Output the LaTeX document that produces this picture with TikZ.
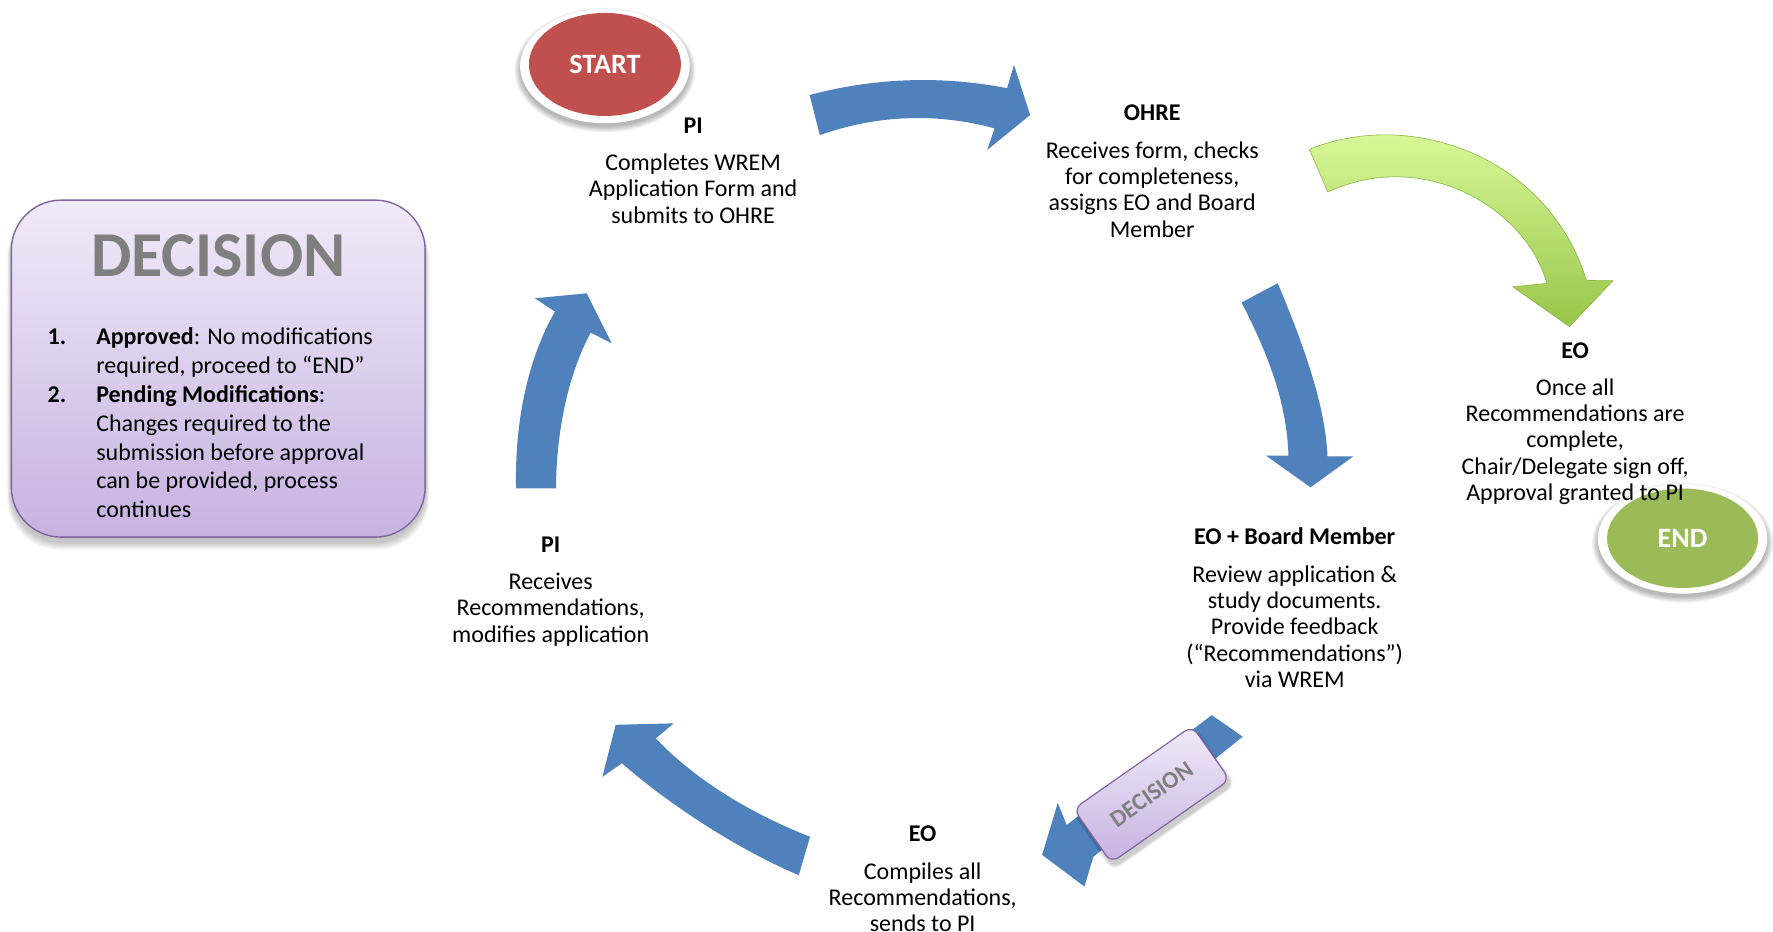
\documentclass[tikz,border=0pt]{standalone}
\usepackage{fontspec}
\setmainfont{Carlito}
\usetikzlibrary{shapes.geometric}
\definecolor{arrowblue}{HTML}{4F81BD}
\definecolor{startred}{HTML}{C0504D}
\definecolor{endgreen}{HTML}{9BBB59}
\definecolor{boxpurple}{HTML}{8064A2}
\definecolor{boxtop}{HTML}{F1EAF9}
\definecolor{boxbot}{HTML}{C7B2E1}
\definecolor{greenlight}{HTML}{E0FFA2}
\definecolor{greendark}{HTML}{98C54A}
\definecolor{greenline}{HTML}{8DB447}
\definecolor{titlegray}{HTML}{7F7F7F}
\tikzset{
  head/.style={font=\fontsize{24}{26.3}\selectfont\bfseries, inner sep=0pt, anchor=center},
  body/.style={font=\fontsize{24}{26.3}\selectfont, align=center, inner sep=0pt, anchor=north},
  bluearrow/.style={fill=arrowblue},
  ringshadow/.style={fill=black, opacity=0.05},
}
\begin{document}
\begin{tikzpicture}[x={(1.1307pt,0)}, y={(0,-1.1307pt)}]
\useasboundingbox (0,0) rectangle (1568,824);
\fill[white] (0,0) rectangle (1568,824);

% ---------- DECISION legend box ----------
\foreach \s in {1,...,6}
  \fill[black, opacity=0.04, rounded corners=52pt] (10-\s*0.6,181+\s*0.2) rectangle (376+\s*0.6,479+\s*1.2);
\node[draw=boxpurple, line width=1.4pt, rounded corners=50pt, top color=boxtop, bottom color=boxbot,
      minimum width=413.8pt, minimum height=337pt, inner sep=0pt] (decbox) at (193,326) {};
\node[font=\fontsize{64}{64}\selectfont\bfseries, text=titlegray, inner sep=0pt] (dectitle) at (193,226) {DECISION};
\node[font=\fontsize{24}{28.8}\selectfont, align=left, inner sep=0pt, anchor=north west] (declist) at (42,290) {%
\makebox[48.6pt][l]{\bfseries 1.}\textbf{Approved}: No modifications\\
\hspace*{48.6pt}required, proceed to “END”\\
\makebox[48.6pt][l]{\bfseries 2.}\textbf{Pending Modifications}:\\
\hspace*{48.6pt}Changes required to the\\
\hspace*{48.6pt}submission before approval\\
\hspace*{48.6pt}can be provided, process\\
\hspace*{48.6pt}continues};

% ---------- START ----------
\foreach \s in {1,...,6}
  \fill[ringshadow] (535,62) ellipse [x radius=74+\s, y radius=49+\s];
\fill[white] (535,58.5) ellipse [x radius=75, y radius=50.5];
\node[ellipse, fill=startred, minimum width=152pt, minimum height=103pt, inner sep=0pt,
      text=white, font=\fontsize{28}{28}\selectfont\bfseries] (start) at (535,57) {START};

% ---------- END ----------
\foreach \s in {1,...,6}
  \fill[ringshadow] (1488,480) ellipse [x radius=74+\s, y radius=47+\s];
\fill[white] (1488,476.5) ellipse [x radius=75, y radius=48.5];
\node[ellipse, fill=endgreen, minimum width=151pt, minimum height=99.5pt, inner sep=0pt,
      text=white, font=\fontsize{28}{28}\selectfont\bfseries] (end) at (1488,476) {END};

% ---------- arrows ----------
% top: PI -> OHRE
\fill[bluearrow] (716,84) .. controls (774,68.7) and (832,66.7) .. (890.6,78) -- (896.8,57.5) -- (911,101.7)
  -- (873,132.7) -- (879.6,113.5) .. controls (828,99.6) and (776.3,101.6) .. (725,119.4) -- cycle;
% right: OHRE -> EO + Board Member
\fill[bluearrow] (1130,250.5) .. controls (1155,310) and (1172,360) .. (1174,403.5) -- (1197,403.5) -- (1159,431)
  -- (1119.7,403) -- (1139.5,403) .. controls (1138,360) and (1125,320) .. (1098,267.5) -- cycle;
% green: OHRE -> EO (approval)
\path[draw=greenline, line width=0.6pt, top color=greenlight, bottom color=greendark]
  (1158,132) .. controls (1250,95) and (1370,140) .. (1403,248) -- (1426.4,248.3) -- (1388,288.8)
  -- (1337.9,253.7) -- (1368,250.6) .. controls (1350,185) and (1260,130) .. (1174.3,169.8) -- cycle;
% decision arrow
\fill[bluearrow] (1071.6,632.4) -- (1099,651.5) .. controls (1055,687) and (1011,722) .. (967,757.7) -- (959,784) -- (921.6,756)
  -- (935.5,710) -- (943.3,729.6) .. controls (986,697) and (1029,665) .. (1071.6,632.4) -- cycle;
% bottom-left: EO -> PI
\fill[bluearrow] (716.4,740) .. controls (665,720) and (615,690) .. (580,653) -- (595.9,639.7) -- (544.5,641)
  -- (532.7,687) -- (550,675) .. controls (590,710) and (650,750) .. (706.4,774) -- cycle;
% left: PI -> PI
\fill[bluearrow] (456.4,432) .. controls (455,370) and (468,315) .. (490.8,275.6) -- (473,263.8) -- (518.9,259.4)
  -- (541,303.6) -- (522.4,294.2) .. controls (503,330) and (492,380) .. (491.7,432) -- cycle;

% small DECISION tag
\foreach \s in {1,...,4}
  \node[rotate=35, rounded corners=9pt, fill=black, opacity=0.05, minimum width=144.7pt+\s*1.5pt,
        minimum height=65.6pt+\s*1.5pt] at (1020.5,706.5) {};
\node[rotate=35, rounded corners=9pt, draw=boxpurple, line width=1.2pt, top color=boxtop, bottom color=boxbot,
      minimum width=144.7pt, minimum height=65.6pt, inner sep=0pt, text=titlegray,
      font=\fontsize{24}{24}\selectfont\bfseries] (dectag) at (1018.5,702.5) {DECISION};

% ---------- step texts ----------
\node[head] (h1) at (613,111) {PI};
\node[body] (b1) at (613,136) {Completes WREM\\Application Form and\\submits to OHRE};

\node[head] (h2) at (1019,99.5) {OHRE};
\node[body] (b2) at (1019,125) {Receives form, checks\\for completeness,\\assigns EO and Board\\Member};

\node[head] (h3) at (1393,310.5) {EO};
\node[body] (b3) at (1393,334.5) {Once all\\Recommendations are\\complete,\\Chair/Delegate sign off,\\Approval granted to PI};

\node[head] (h4) at (1145,474.5) {EO + Board Member};
\node[body] (b4) at (1145,500) {Review application \&\\study documents.\\Provide feedback\\(“Recommendations”)\\via WREM};

\node[head] (h5) at (816,737.5) {EO};
\node[body] (b5) at (816,762.5) {Compiles all\\Recommendations,\\sends to PI};

\node[head] (h6) at (487,481.5) {PI};
\node[body] (b6) at (487,506.5) {Receives\\Recommendations,\\modifies application};
\end{tikzpicture}
\end{document}
